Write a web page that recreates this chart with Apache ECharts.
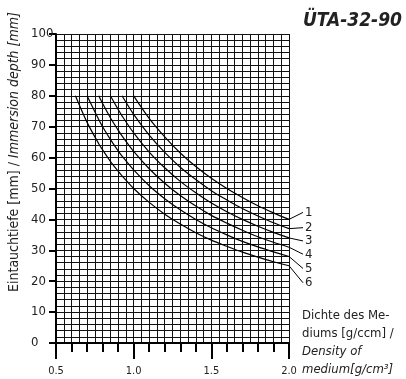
<!DOCTYPE html>
<html>
<head>
<meta charset="utf-8">
<script src="https://cdn.jsdelivr.net/npm/echarts@6/dist/echarts.min.js"></script>
<style>
  html, body { margin: 0; padding: 0; background: #fff; }
  #chart { width: 406px; height: 379px; }
</style>
</head>
<body>
<div id="chart"></div>
<script>
// density [g/ccm] sample points
var densities = [0.625, 0.7, 0.775, 0.8, 0.85, 0.9, 0.925, 1.0, 1.1, 1.2, 1.3, 1.4, 1.5, 1.6, 1.7, 1.8, 1.9, 2.0];
// immersion depth [mm] per curve, null = curve not started yet
var curve1 = [null, null, null, null, null, null, null, 80, 72.7, 66.7, 61.5, 57.1, 53.3, 50, 47.1, 44.4, 42.1, 40];
var curve2 = [null, null, null, null, null, null, 80, 74, 67.3, 61.7, 56.9, 52.9, 49.3, 46.3, 43.5, 41.1, 38.9, 37];
var curve3 = [null, null, null, null, 80, 75.6, 73.5, 68, 61.8, 56.7, 52.3, 48.6, 45.3, 42.5, 40, 37.8, 35.8, 34];
var curve4 = [null, null, 80, 77.5, 72.9, 68.9, 67.0, 62, 56.4, 51.7, 47.7, 44.3, 41.3, 38.8, 36.5, 34.4, 32.6, 31];
var curve5 = [null, 80, 72.3, 70, 65.9, 62.2, 60.5, 56, 50.9, 46.7, 43.1, 40, 37.3, 35, 32.9, 31.1, 29.5, 28];
var curve6 = [80, 71.4, 64.5, 62.5, 58.8, 55.6, 54.1, 50, 45.5, 41.7, 38.5, 35.7, 33.3, 31.3, 29.4, 27.8, 26.3, 25];
var curveNames = ['1', '2', '3', '4', '5', '6'];
var xTickLabels = ['0.5', '1.0', '1.5', '2.0'];

var font = "'Liberation Sans Narrow', 'DejaVu Sans Condensed', sans-serif";
var chart = echarts.init(document.getElementById('chart'));

function pairs(vals) {
    var out = [];
    for (var i = 0; i < densities.length; i++) {
        if (vals[i] != null) out.push([densities[i], vals[i]]);
    }
    return out;
}

var curves = [curve1, curve2, curve3, curve4, curve5, curve6];
var series = curves.map(function (c, i) {
    return {
        name: curveNames[i],
        type: 'line',
        xAxisIndex: 0,
        yAxisIndex: 0,
        smooth: 0.3,
        symbol: 'none',
        lineStyle: { color: '#000', width: 1.2 },
        data: pairs(c),
        z: 5
    };
});

chart.setOption({
    animation: false,
    grid: { left: 56, right: 117, top: 34, bottom: 36 },
    xAxis: [{
        type: 'value', min: 0.5, max: 2.0, interval: 0.05,
        axisLine: { onZero: false, lineStyle: { color: '#000', width: 2 } },
        axisTick: { show: false },
        axisLabel: { show: false },
        splitLine: { show: true, lineStyle: { color: '#111', width: 1 } }
    }, {
        type: 'value', position: 'bottom', min: 0.5, max: 2.0, interval: 0.1,
        axisLine: { show: false },
        axisTick: { show: true, length: 9, lineStyle: { color: '#000', width: 2 } },
        axisLabel: { show: false },
        splitLine: { show: false }
    }, {
        type: 'value', position: 'bottom', min: 0.5, max: 2.0, interval: 0.5,
        axisLine: { show: false },
        axisTick: { show: true, length: 16, lineStyle: { color: '#000', width: 2 } },
        axisLabel: {
            margin: 23, color: '#222', fontFamily: font, fontSize: 11,
            formatter: function (v) { return xTickLabels[Math.round((v - 0.5) / 0.5)]; }
        },
        splitLine: { show: false }
    }],
    yAxis: [{
        type: 'value', min: 0, max: 100, interval: 2,
        axisLine: { show: true, lineStyle: { color: '#000', width: 2 } },
        axisTick: { show: false },
        axisLabel: { show: false },
        splitLine: { show: true, lineStyle: { color: '#111', width: 1 } }
    }, {
        type: 'value', position: 'left', min: 0, max: 100, interval: 10,
        axisLine: { show: false },
        axisTick: { show: true, length: 7, lineStyle: { color: '#000', width: 2 } },
        axisLabel: { margin: 25, align: 'left', color: '#222', fontFamily: font, fontSize: 13 },
        splitLine: { show: false }
    }],
    series: series
});

// right-hand curve numbers with leader lines, and text blocks
var labelShift = [-7, -1, 3, 7, 12, 17];
var graphics = [];
curves.forEach(function (c, i) {
    var end = chart.convertToPixel({ xAxisIndex: 0, yAxisIndex: 0 }, [2.0, c[c.length - 1]]);
    var ly = end[1] + labelShift[i];
    graphics.push({
        type: 'line',
        shape: { x1: end[0], y1: end[1], x2: end[0] + 14, y2: ly },
        style: { stroke: '#000', lineWidth: 1 }
    });
    graphics.push({
        type: 'text', x: end[0] + 16, y: ly,
        style: { text: curveNames[i], font: '13px ' + font, fill: '#222', textVerticalAlign: 'middle' }
    });
});
graphics.push({
    type: 'text', right: 4, top: 12,
    style: { text: 'ÜTA-32-90', font: 'italic bold 19px ' + font, fill: '#222' }
});
graphics.push({
    type: 'text', x: 302, y: 307,
    style: {
        text: '{n|Dichte des Me-}\n{n|diums [g/ccm] /}\n{i|Density of}\n{i|medium[g/cm³]}',
        rich: {
            n: { font: '13px ' + font, fill: '#222', lineHeight: 18 },
            i: { font: 'italic 13px ' + font, fill: '#222', lineHeight: 18 }
        }
    }
});
graphics.push({
    type: 'text', x: 7, y: 292, rotation: Math.PI / 2,
    style: {
        text: '{n|Eintauchtiefe [mm] / }{i|Immersion depth [mm]}',
        rich: {
            n: { font: '14px ' + font, fill: '#222' },
            i: { font: 'italic 14px ' + font, fill: '#222' }
        }
    }
});
chart.setOption({ graphic: graphics });
</script>
</body>
</html>
